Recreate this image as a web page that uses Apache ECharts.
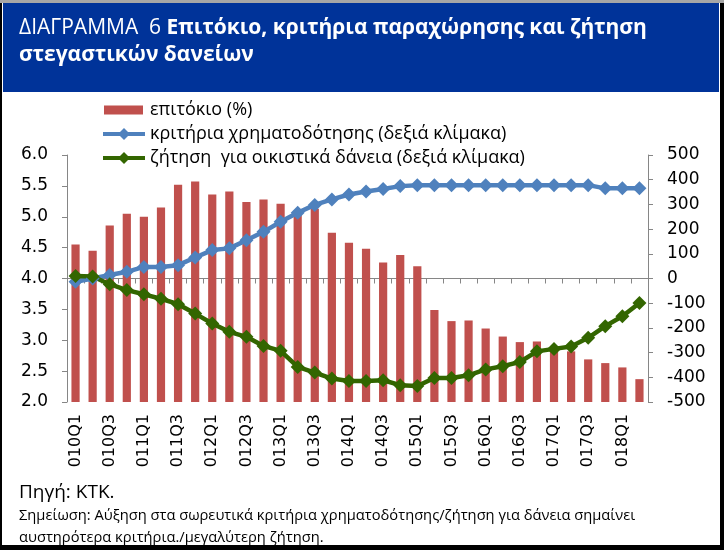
<!DOCTYPE html>
<html>
<head>
<meta charset="utf-8">
<script src="https://cdn.jsdelivr.net/npm/echarts@6/dist/echarts.min.js"></script>
<style>
  html, body { margin: 0; padding: 0; background: #000; }
  #frame { position: absolute; left: 0; top: 0; width: 724px; height: 550px; background: #000; }
  #inner { position: absolute; left: 2px; top: 3px; width: 718px; height: 542px; background: #fff; }
  #topline { position: absolute; left: 0; top: 0; width: 724px; height: 3px; background: #a6a6a6; }
  #header { position: absolute; left: 3px; top: 3px; width: 716px; height: 89px; background: #003399; }
  #chart { position: absolute; left: 0; top: 0; width: 724px; height: 550px; }
</style>
</head>
<body>
<div id="frame"><div id="topline"></div><div id="inner"></div><div id="header"></div></div>
<div id="chart"></div>
<script>
// ---- data ----
const categories = ['010Q1','010Q2','010Q3','010Q4','011Q1','011Q2','011Q3','011Q4',
  '012Q1','012Q2','012Q3','012Q4','013Q1','013Q2','013Q3','013Q4',
  '014Q1','014Q2','014Q3','014Q4','015Q1','015Q2','015Q3','015Q4',
  '016Q1','016Q2','016Q3','016Q4','017Q1','017Q2','017Q3','017Q4',
  '018Q1','018Q2'];
const interestRate = [4.55, 4.45, 4.86, 5.05, 5.00, 5.15, 5.52, 5.57,
  5.36, 5.41, 5.24, 5.28, 5.21, 5.10, 5.13, 4.74,
  4.58, 4.48, 4.26, 4.38, 4.20, 3.49, 3.31, 3.32,
  3.19, 3.06, 2.97, 2.98, 2.85, 2.82, 2.69, 2.63,
  2.56, 2.37];
const creditStandards = [-13, 0, 14, 27, 47, 47, 54, 85,
  115, 122, 155, 189, 230, 266, 298, 320,
  340, 352, 362, 374, 378, 378, 378, 378,
  378, 378, 378, 378, 378, 378, 378, 365,
  365, 365];
const housingDemand = [10, 8, -23, -47, -64, -82, -104, -142,
  -182, -216, -236, -273, -293, -358, -381, -405,
  -415, -415, -412, -432, -435, -403, -403, -392,
  -368, -355, -338, -295, -285, -275, -240, -193,
  -153, -99];
const seriesNames = ['επιτόκιο (%)', 'κριτήρια χρηματοδότησης (δεξιά κλίμακα)', 'ζήτηση  για οικιστικά δάνεια (δεξιά κλίμακα)'];
const titleLight = 'ΔΙΑΓΡΑΜΜΑ  6 ';
const titleBold = 'Επιτόκιο, κριτήρια παραχώρησης και ζήτηση';
const titleLine2 = 'στεγαστικών δανείων';
const sourceText = 'Πηγή: ΚΤΚ.';
const noteLine1 = 'Σημείωση: Αύξηση στα σωρευτικά κριτήρια χρηματοδότησης/ζήτηση για δάνεια σημαίνει';
const noteLine2 = 'αυστηρότερα κριτήρια./μεγαλύτερη ζήτηση.';

const axisGray = '#868686';
const tickFont = 'DejaVu Sans';
const textFont = 'Open Sans';

const chart = echarts.init(document.getElementById('chart'), null, { renderer: 'canvas' });
chart.setOption({
  backgroundColor: 'transparent',
  animation: false,
  grid: { left: 67, right: 76, top: 155, bottom: 148 },
  legend: {
    orient: 'vertical', left: 96, top: 96,
    itemWidth: 42, itemHeight: 15, itemGap: 6,
    lineStyle: { width: 4 },
    textStyle: { fontFamily: textFont, fontSize: 18, color: '#000' },
    data: [
      { name: seriesNames[0], icon: 'path://M0,0L0,0M1,3L40,3L40,12L1,12ZM42,15L42,15' },
      { name: seriesNames[1] },
      { name: seriesNames[2] }
    ]
  },
  xAxis: {
    type: 'category', data: categories, boundaryGap: true,
    axisLine: { lineStyle: { color: axisGray, width: 1 } },
    axisTick: { show: true, interval: 0, length: 5, lineStyle: { color: axisGray } },
    axisLabel: { interval: 1, rotate: 90, margin: 12, fontFamily: tickFont, fontSize: 16, color: '#000' },
    splitLine: { show: false }
  },
  yAxis: [
    {
      type: 'value', min: 2, max: 6, interval: 0.5, position: 'left',
      axisLine: { show: true, lineStyle: { color: axisGray } },
      axisTick: { show: true, length: 5, lineStyle: { color: axisGray } },
      axisLabel: { margin: 19, fontFamily: tickFont, fontSize: 17, color: '#000', formatter: v => v.toFixed(1) },
      splitLine: { show: false }
    },
    {
      type: 'value', min: -500, max: 500, interval: 100, position: 'right',
      axisLine: { show: true, lineStyle: { color: axisGray } },
      axisTick: { show: true, length: 5, lineStyle: { color: axisGray } },
      axisLabel: { margin: 19, fontFamily: tickFont, fontSize: 17, color: '#000' },
      splitLine: { show: false }
    }
  ],
  series: [
    {
      name: seriesNames[0], type: 'bar', yAxisIndex: 0, data: interestRate,
      barWidth: '48%', itemStyle: { color: '#C0504D' }
    },
    {
      name: seriesNames[1], type: 'line', yAxisIndex: 1, data: creditStandards,
      symbol: 'diamond', symbolSize: 14, showAllSymbol: true,
      lineStyle: { color: '#4F81BD', width: 4.5 }, itemStyle: { color: '#4F81BD' }
    },
    {
      name: seriesNames[2], type: 'line', yAxisIndex: 1, data: housingDemand,
      symbol: 'diamond', symbolSize: 14, showAllSymbol: true,
      lineStyle: { color: '#336600', width: 4.5 }, itemStyle: { color: '#336600' }
    }
  ],
  graphic: [
    {
      type: 'text', left: 19, top: 18,
      style: {
        text: '{a|' + titleLight + '}{b|' + titleBold + '}',
        rich: {
          a: { fontFamily: textFont, fontSize: 21, fill: '#fff', fontWeight: 'normal' },
          b: { fontFamily: textFont, fontSize: 21, fill: '#fff', fontWeight: 'bold' }
        }
      }
    },
    {
      type: 'text', left: 19, top: 45,
      style: { text: titleLine2, fontFamily: textFont, fontSize: 21, fontWeight: 'bold', fill: '#fff' }
    },
    {
      type: 'text', left: 19, top: 483,
      style: { text: sourceText, fontFamily: textFont, fontSize: 19, fill: '#000' }
    },
    {
      type: 'text', left: 19, top: 508.5,
      style: { text: noteLine1, fontFamily: textFont, fontSize: 14.7, fill: '#000' }
    },
    {
      type: 'text', left: 19, top: 530.5,
      style: { text: noteLine2, fontFamily: textFont, fontSize: 14.7, fill: '#000' }
    }
  ]
});
</script>
</body>
</html>
